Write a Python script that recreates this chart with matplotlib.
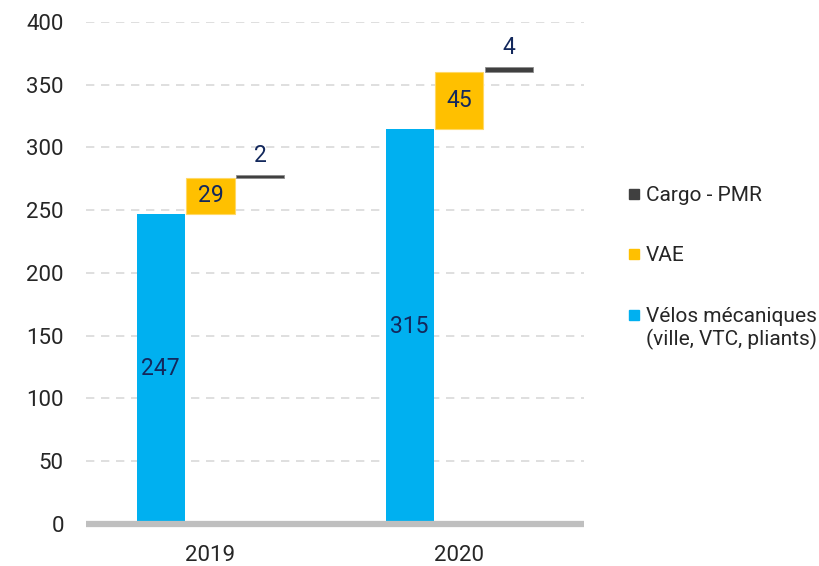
import matplotlib.pyplot as plt
import numpy as np
from matplotlib.patches import Rectangle

plt.rcParams['font.family'] = ['Roboto', 'DejaVu Sans']

years = ['2019', '2020']
mecaniques = [247, 315]
vae = [29, 45]
cargo = [2, 4]

c_meca = '#00B0F0'
c_vae = '#FFC000'
c_cargo = '#404040'
c_label = '#13285C'

W, H = 819, 566
fig = plt.figure(figsize=(W / 100, H / 100), dpi=100)
ax = fig.add_axes([0.105, 0.0742, 0.608, 0.887])

x = np.arange(len(years))
w = 0.193
step = 0.2

# waterfall: each segment starts where the previous one ends
base_vae = np.array(mecaniques)
base_cargo = base_vae + np.array(vae)

ax.bar(x - step, mecaniques, w, color=c_meca, zorder=2)
ax.bar(x, vae, w, bottom=base_vae, color=c_vae, edgecolor='#FFD966',
       linewidth=0.8, zorder=2)
ax.bar(x + step, cargo, w, bottom=base_cargo, color=c_cargo,
       edgecolor='#8C8C8C', linewidth=0.6, zorder=2)

lab_fs = 16.5
for i in range(len(years)):
    ax.text(x[i] - step, mecaniques[i] / 2, str(mecaniques[i]),
            ha='center', va='center', fontsize=lab_fs, color=c_label, zorder=4)
    ax.text(x[i], base_vae[i] + vae[i] / 2, str(vae[i]),
            ha='center', va='center', fontsize=lab_fs, color=c_label, zorder=4)
    ax.annotate(str(cargo[i]), (x[i] + step, base_cargo[i] + cargo[i]),
                xytext=(0, 6), textcoords='offset points',
                ha='center', va='bottom', fontsize=lab_fs, color=c_label)

ax.set_xlim(-0.5, 1.5)
ax.set_ylim(0, 400)
ax.set_yticks(range(0, 401, 50))
ax.set_xticks(x)
ax.set_xticklabels(years)
ax.tick_params(length=0, labelsize=16, colors='#262626')
ax.tick_params(axis='y', pad=16)
ax.tick_params(axis='x', pad=15)
ax.yaxis.grid(True, linestyle=(0, (5, 4)), color='#D9D9D9', linewidth=1.2, zorder=0)
ax.set_axisbelow(True)
for s in ax.spines.values():
    s.set_visible(False)
ax.axhline(0, color='#BFBFBF', linewidth=4.5, zorder=3, clip_on=False,
           solid_capstyle='butt')

# legend drawn by hand so the square sits on the first line of each label
legend = [('Cargo - PMR', c_cargo, 194),
          ('VAE', c_vae, 254),
          ('Vélos mécaniques\n(ville, VTC, pliants)', c_meca, 315)]
for label, col, ypix in legend:
    fig.add_artist(Rectangle((629 / W, 1 - (ypix + 5) / H), 10 / W, 10 / H,
                             transform=fig.transFigure, color=col))
    fig.text(646 / W, 1 - (ypix - 8) / H, label, ha='left', va='top',
             fontsize=15, color='#262626', linespacing=1.2)

fig.savefig('out.png', dpi=100)
